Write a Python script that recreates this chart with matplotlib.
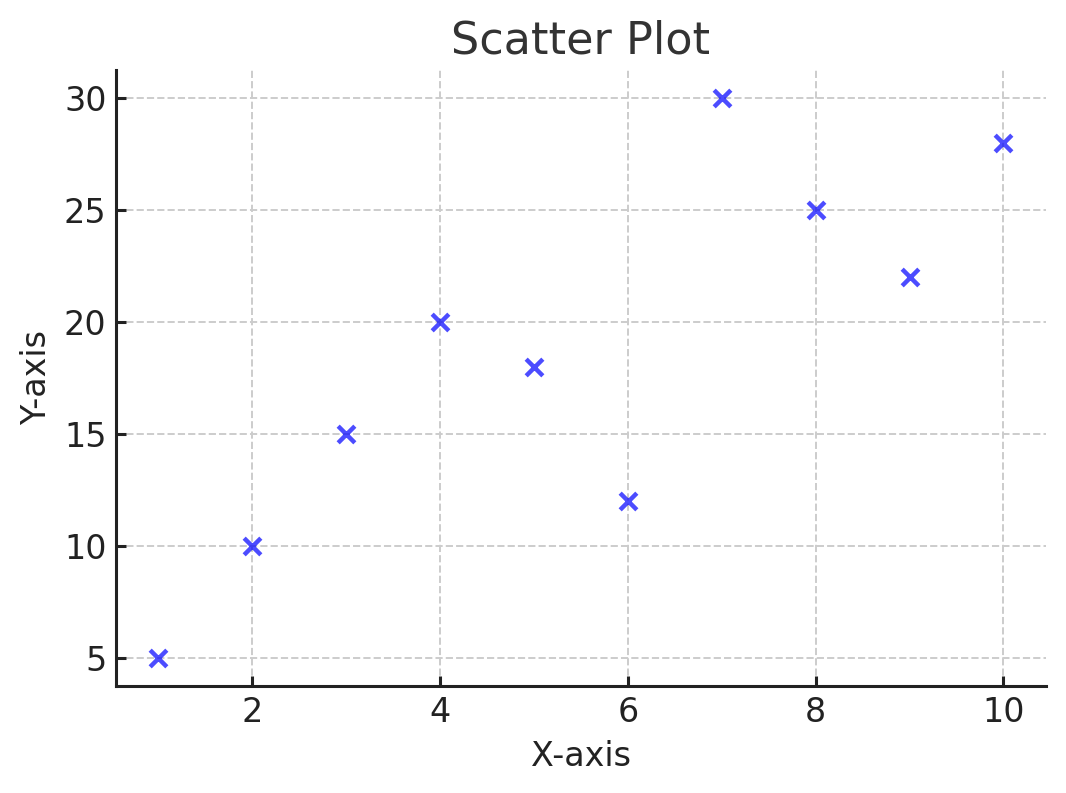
import matplotlib.pyplot as plt

x = [1, 2, 3, 4, 5, 6, 7, 8, 9, 10]
y = [5, 10, 15, 20, 18, 12, 30, 25, 22, 28]

fig, ax = plt.subplots(figsize=(5.33, 3.965), dpi=200)
ax.scatter(x, y, marker='x', color='blue', alpha=0.7, s=36, linewidths=1.6)
ax.set_title('Scatter Plot', fontsize=16, color='#333333')
ax.set_xlabel('X-axis', fontsize=12, color='#222222')
ax.set_ylabel('Y-axis', fontsize=12, color='#222222')
ax.tick_params(labelsize=12, colors='#222222', direction='in', width=1.1)
ax.grid(True, linestyle='--', color='#cccccc', linewidth=0.7)
ax.set_axisbelow(True)
ax.spines['top'].set_visible(False)
ax.spines['right'].set_visible(False)
for s in ['left', 'bottom']:
    ax.spines[s].set_linewidth(1.1)
    ax.spines[s].set_color('#222222')
fig.subplots_adjust(left=0.109, right=0.981, top=0.912, bottom=0.135)
fig.savefig('out.png', dpi=200)
